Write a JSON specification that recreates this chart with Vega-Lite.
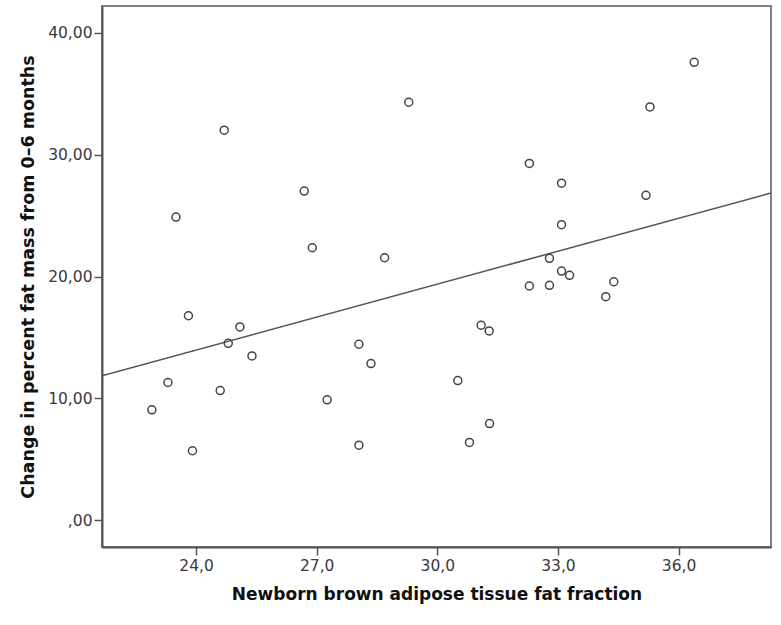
{
  "$schema": "https://vega.github.io/schema/vega-lite/v6.json",
  "width": 669,
  "height": 541,
  "autosize": {"type": "none"},
  "padding": {"left": 102, "top": 6, "right": 10, "bottom": 78},
  "background": "white",
  "config": {
    "font": "DejaVu Sans",
    "view": {"stroke": "#808080", "strokeWidth": 2},
    "axis": {
      "domainColor": "#555555",
      "domainWidth": 2,
      "tickColor": "#555555",
      "tickWidth": 1.5,
      "tickSize": 8,
      "grid": false,
      "labelFont": "DejaVu Sans",
      "labelFontSize": 15.5,
      "labelColor": "#3a3a3a",
      "titleFont": "DejaVu Sans",
      "titleFontWeight": "bold",
      "titleColor": "#111111"
    }
  },
  "data": {
    "values": [
      {"bat": 22.90, "change": 9.06},
      {"bat": 23.30, "change": 11.30},
      {"bat": 23.50, "change": 24.88},
      {"bat": 23.81, "change": 16.78},
      {"bat": 23.91, "change": 5.70},
      {"bat": 24.60, "change": 10.64},
      {"bat": 24.70, "change": 32.01},
      {"bat": 24.80, "change": 14.52},
      {"bat": 25.09, "change": 15.86},
      {"bat": 25.39, "change": 13.48},
      {"bat": 26.69, "change": 27.01},
      {"bat": 26.89, "change": 22.36},
      {"bat": 27.26, "change": 9.88},
      {"bat": 28.05, "change": 14.44},
      {"bat": 28.05, "change": 6.16},
      {"bat": 28.35, "change": 12.85},
      {"bat": 28.69, "change": 21.54},
      {"bat": 29.29, "change": 34.30},
      {"bat": 30.51, "change": 11.46},
      {"bat": 30.80, "change": 6.38},
      {"bat": 31.09, "change": 16.00},
      {"bat": 31.29, "change": 15.53},
      {"bat": 31.30, "change": 7.93},
      {"bat": 32.29, "change": 29.28},
      {"bat": 32.29, "change": 19.22},
      {"bat": 32.79, "change": 21.49},
      {"bat": 32.79, "change": 19.28},
      {"bat": 33.09, "change": 27.66},
      {"bat": 33.09, "change": 24.25},
      {"bat": 33.09, "change": 20.45},
      {"bat": 33.29, "change": 20.10},
      {"bat": 34.19, "change": 18.34},
      {"bat": 34.39, "change": 19.57},
      {"bat": 35.19, "change": 26.66},
      {"bat": 35.29, "change": 33.92},
      {"bat": 36.39, "change": 37.58}
    ]
  },
  "encoding": {
    "x": {
      "field": "bat",
      "type": "quantitative",
      "scale": {"domain": [21.66, 38.3], "nice": false, "zero": false},
      "axis": {
        "title": "Newborn brown adipose tissue fat fraction",
        "titleFontSize": 17,
        "values": [24, 27, 30, 33, 36],
        "labelExpr": "replace(format(datum.value, '.1f'), '.', ',')",
        "labelPadding": 3,
        "titlePadding": 13
      }
    },
    "y": {
      "field": "change",
      "type": "quantitative",
      "scale": {"domain": [-2.2, 42.2], "nice": false, "zero": false},
      "axis": {
        "title": "Change in percent fat mass from 0–6 months",
        "titleFontSize": 17.5,
        "values": [0, 10, 20, 30, 40],
        "labelExpr": "datum.value == 0 ? ',00' : replace(format(datum.value, '.2f'), '.', ',')",
        "labelPadding": 2,
        "titlePadding": 10
      }
    }
  },
  "layer": [
    {
      "transform": [
        {"regression": "change", "on": "bat", "extent": [21.66, 38.3]}
      ],
      "mark": {"type": "line", "color": "#555555", "strokeWidth": 1.5, "clip": true}
    },
    {
      "mark": {"type": "point", "shape": "circle", "filled": false, "size": 64, "stroke": "#444444", "strokeWidth": 1.5, "opacity": 1}
    }
  ]
}
